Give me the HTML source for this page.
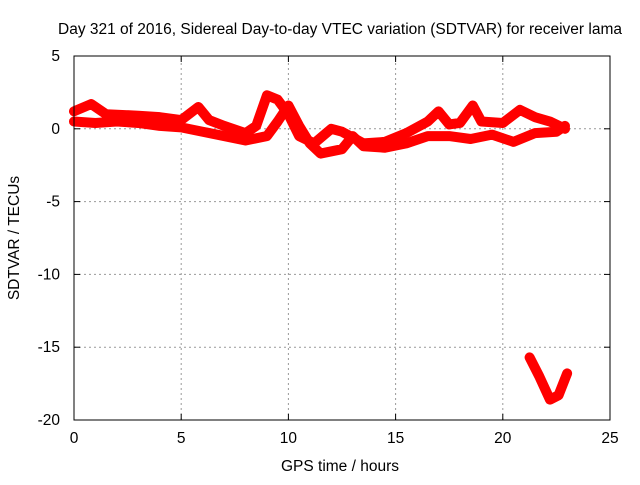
<!DOCTYPE html>
<html><head><meta charset="utf-8"><style>
body{margin:0;background:#fff}
svg text{font-family:"Liberation Sans",sans-serif;font-size:15.5px;fill:#000}
</style></head><body>
<svg id="chart" width="640" height="480" xmlns="http://www.w3.org/2000/svg">
<text x="340" y="34" text-anchor="middle">Day 321 of 2016, Sidereal Day-to-day VTEC variation (SDTVAR) for receiver lama</text>
<text x="340" y="471" text-anchor="middle">GPS time / hours</text>
<text transform="translate(19,238) rotate(-90)" text-anchor="middle">SDTVAR / TECUs</text>
<g id="grid"></g><g id="ticks"></g><g id="series"></g>
<rect x="74" y="56" width="536" height="364" fill="none" stroke="#000"/>
</svg>
<script>
const xTicks=[0,5,10,15,20,25];
const yTicks=[5,0,-5,-10,-15,-20];
const upperHours=[0,0.8,1.5,3,4,5,5.8,6.3,7,8,8.5,9,9.5,10,10.5,11.2,12,12.5,13,13.5,14.5,15.5,16.5,17,17.5,18,18.6,19,20,20.8,21.5,22.2,22.9];
const upperValues=[1.2,1.7,1.0,0.9,0.8,0.6,1.5,0.6,0.2,-0.3,0.2,2.3,2.0,1.0,-0.5,-1.0,0,-0.2,-0.6,-1.0,-0.9,-0.3,0.5,1.2,0.3,0.4,1.6,0.5,0.4,1.3,0.8,0.5,0];
const lowerHours=[0,1,2,3,4,5,6,7,8,9,9.5,10,10.5,11,11.5,12.5,13,13.5,14.5,15.5,16.5,17.5,18.5,19.5,20.5,21.5,22.5,22.9];
const lowerValues=[0.5,0.4,0.5,0.4,0.2,0.1,-0.2,-0.5,-0.8,-0.5,0.5,1.6,0.2,-1.0,-1.7,-1.4,-0.5,-1.2,-1.3,-1.0,-0.5,-0.5,-0.7,-0.4,-0.9,-0.3,-0.2,0.2];
const outlierHours=[21.25,21.7,22.2,22.6,23.0];
const outlierValues=[-15.7,-17.0,-18.6,-18.3,-16.8];
const X0=74,X1=610,Y0=420,Y1=56;
const xs=h=>X0+(h-0)/25*(X1-X0);
const ys=v=>Y0-(v+20)/25*(Y0-Y1);
const NS="http://www.w3.org/2000/svg";
function mk(t,a,p){const e=document.createElementNS(NS,t);for(const k in a)e.setAttribute(k,a[k]);p.appendChild(e);return e;}
const grid=document.getElementById('grid'),ticks=document.getElementById('ticks'),ser=document.getElementById('series');
xTicks.forEach(t=>{const x=xs(t);
 if(t>0&&t<25){const g=mk('line',{x1:x,x2:x,y1:Y0,y2:Y1,stroke:'#999','stroke-dasharray':'2,3'},grid);
 
 }
 const tl=mk('text',{x:x,y:Y0+23,'text-anchor':'middle'},ticks);tl.textContent=t;
 
 
 mk('line',{x1:x,x2:x,y1:Y0,y2:Y0-6,stroke:'#000'},ticks);mk('line',{x1:x,x2:x,y1:Y1,y2:Y1+6,stroke:'#000'},ticks);});
yTicks.forEach(t=>{const y=ys(t);
 if(t<5&&t>-20){const g=mk('line',{x1:X0,x2:X1,y1:y,y2:y,stroke:'#999','stroke-dasharray':'2,3'},grid);
 
 }
 const tl=mk('text',{x:X0-14,y:y+5,'text-anchor':'end'},ticks);tl.textContent=t;
 
 
 mk('line',{x1:X0,x2:X0+6,y1:y,y2:y,stroke:'#000'},ticks);mk('line',{x1:X1,x2:X1-6,y1:y,y2:y,stroke:'#000'},ticks);});
function series(hs,vs,name){
 const pts=hs.map((h,i)=>xs(h)+','+ys(vs[i])).join(' ');
 const p=mk('polyline',{points:pts,fill:'none',stroke:'#f00','stroke-width':10,'stroke-linejoin':'round','stroke-linecap':'round'},ser);
 
 
}
series(upperHours,upperValues,'sdtvar-upper-trace');
series(lowerHours,lowerValues,'sdtvar-lower-trace');
series(outlierHours,outlierValues,'sdtvar-outlier-trace');
</script>
</body></html>
